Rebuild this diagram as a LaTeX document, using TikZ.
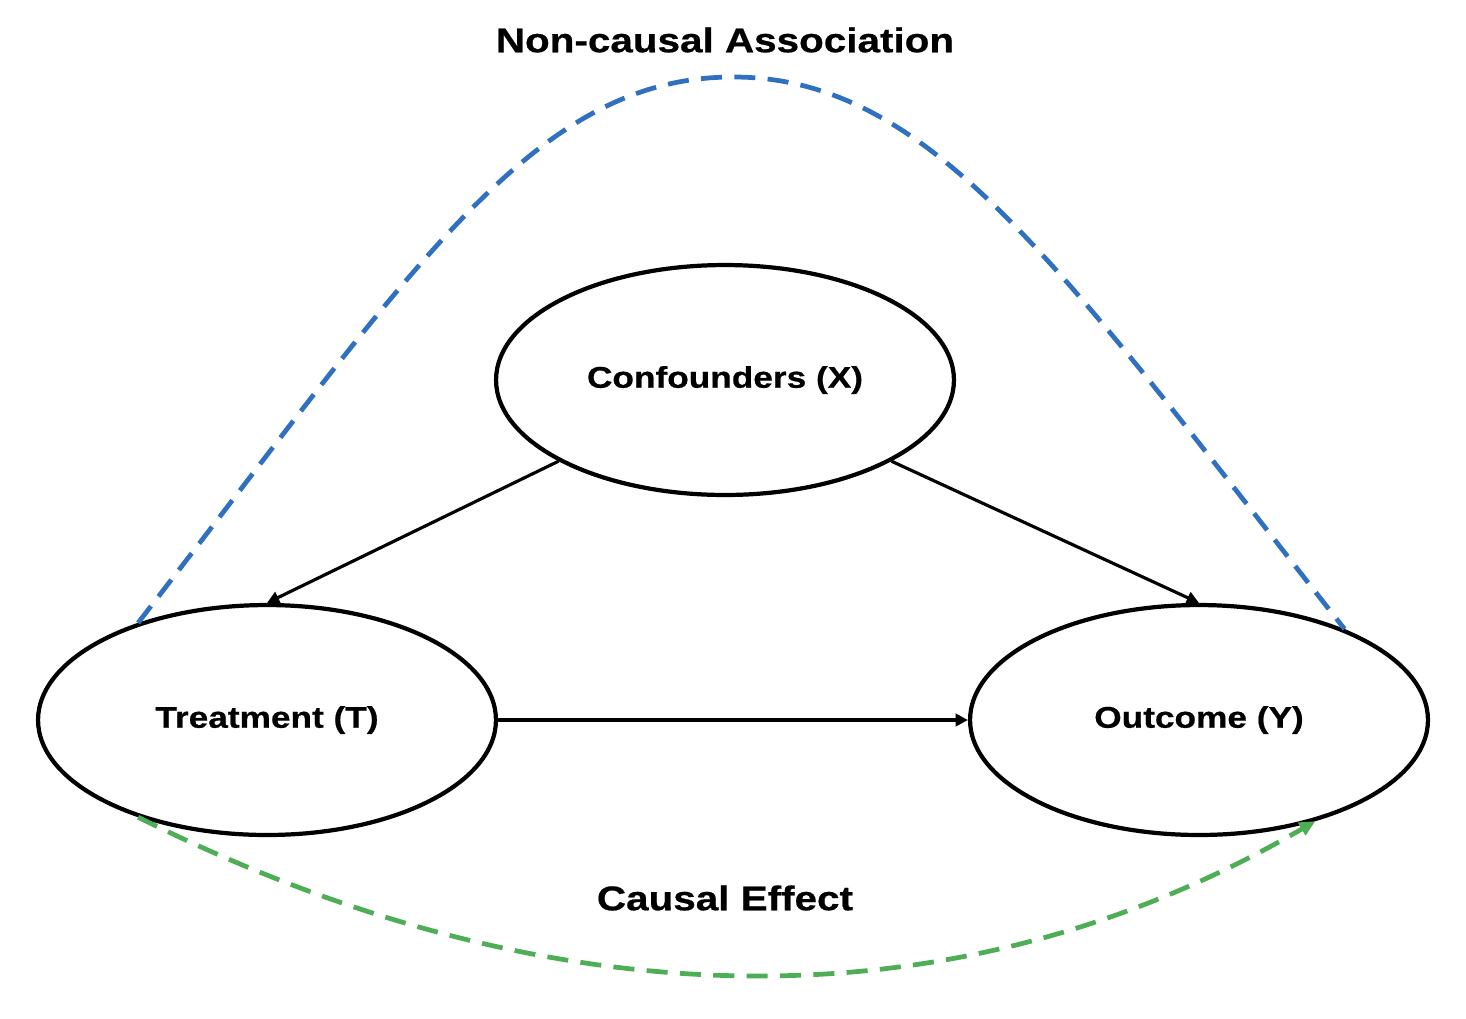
\documentclass[tikz,border=0pt]{standalone}
\usepackage{fontspec}
\setmainfont{Liberation Sans}[FakeStretch=1.18,BoldFeatures={FakeBold=0.6}]
\usepackage{tikz}
\usetikzlibrary{positioning,arrows.meta,shapes.geometric}

\definecolor{assocblue}{HTML}{3070C0}
\definecolor{effectgreen}{HTML}{4EAE55}

\begin{document}
\begin{tikzpicture}[x=0.02cm,y=-0.02cm]
        \tikzstyle{vertex}=[draw,line width=2.4pt,ellipse,fill=white,minimum width=9.16cm,minimum height=4.6cm,inner sep=0pt,font=\fontsize{17}{19}\selectfont\bfseries]
        \tikzstyle{edge}=[line width=1.8pt,-{Triangle[length=7pt,width=7pt]}]
        \tikzstyle{path}=[line width=2.7pt,dash pattern=on 12pt off 7pt]
        \tikzstyle{caption}=[font=\fontsize{19.5}{22}\selectfont\bfseries]

        \useasboundingbox (0,0) rectangle (1466,1018);

        \draw (725,380) node[vertex] (cx) {Confounders (X)};
        \draw (267,720) node[vertex] (tt) {Treatment (T)};
        \draw (1199,720) node[vertex] (oy) {Outcome (Y)};

        \draw (725,40) node[caption] (na) {Non-causal Association};
        \draw (725,898) node[caption] (ce) {Causal Effect};
        \coordinate (apex) at (733,77);

        \draw[edge] (cx.206) -- (tt.north);
        \draw[edge] (cx.334) -- (oy.north);
        \draw[edge] (tt.east) -- (oy.west);

        \draw[path,assocblue] (tt.143) .. controls (414,267) and (533,77) .. (apex)
                .. controls (933,77) and (1066,275) .. (oy.32);
        \draw[path,effectgreen,-{Triangle[length=9pt,width=8pt]}] (tt.217) .. controls (560,1027) and (960,1027) .. (oy.319);
\end{tikzpicture}
\end{document}
